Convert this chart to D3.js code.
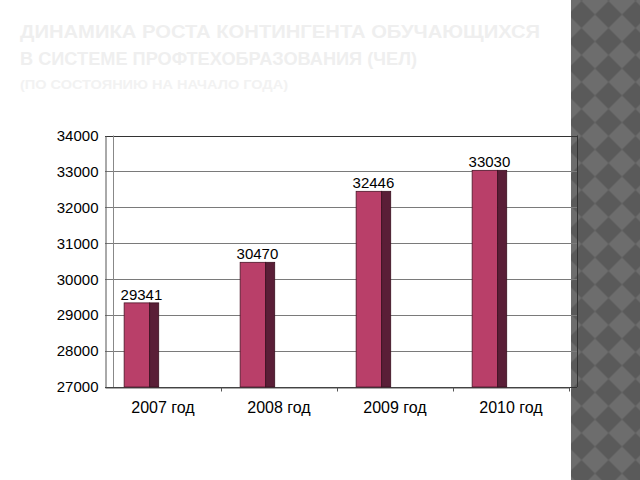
<!DOCTYPE html>
<html><head><meta charset="utf-8">
<script src="https://cdn.jsdelivr.net/npm/d3@7"></script>
<style>html,body{margin:0;padding:0;background:#fff;}svg{display:block;}</style>
</head><body>
<script>
const categories = ["2007 год", "2008 год", "2009 год", "2010 год"];
const values = [29341, 30470, 32446, 33030];
const yTicks = [27000, 28000, 29000, 30000, 31000, 32000, 33000, 34000];
const titleLines = ["ДИНАМИКА РОСТА КОНТИНГЕНТА ОБУЧАЮЩИХСЯ", "В СИСТЕМЕ ПРОФТЕХОБРАЗОВАНИЯ (ЧЕЛ)"];
const subtitle = "(ПО СОСТОЯНИЮ НА НАЧАЛО ГОДА)";

const W = 640, H = 480;
const svg = d3.select("body").append("svg").attr("width", W).attr("height", H);
const font = "'Liberation Sans', Arial, sans-serif";

// right decorative panel
const defs = svg.append("defs");
const P = 27;
const pat = defs.append("pattern").attr("id", "chk").attr("patternUnits", "userSpaceOnUse")
  .attr("width", P).attr("height", P).attr("x", 581.5).attr("y", 176.5);
pat.append("rect").attr("width", P).attr("height", P).attr("fill", "#5a5a5a");
pat.append("polygon").attr("points", `${P/2},0 ${P},${P/2} ${P/2},${P} 0,${P/2}`).attr("fill", "#6d6d6d");
svg.append("rect").attr("x", 571).attr("y", 0).attr("width", W - 571).attr("height", H).attr("fill", "url(#chk)");

// title (very light)
const tg = svg.append("g").attr("font-family", font).attr("font-weight", "bold");
tg.selectAll("text.t").data(titleLines).join("text").attr("class", "t")
  .attr("x", 20).attr("y", (d, i) => 38 + i * 27)
  .attr("font-size", 18).attr("fill", "#efefef")
  .attr("textLength", (d, i) => i === 0 ? 520 : 397).attr("lengthAdjust", "spacingAndGlyphs")
  .text(d => d);
tg.append("text").attr("x", 20).attr("y", 89).attr("font-size", 13).attr("fill", "#f2f2f2")
  .attr("textLength", 268).attr("lengthAdjust", "spacingAndGlyphs").text(subtitle);

// scales
const x = d3.scaleBand().domain(categories).range([105, 569]).padding(0);
const y = d3.scaleLinear().domain([27000, 34000]).range([387, 135.5]);
const depth = 8;
const left = x.range()[0], right = x.range()[1] + depth;

// grid / back wall
const grid = svg.append("g");
grid.selectAll("line.g").data(yTicks).join("line").attr("class", "g")
  .attr("x1", left).attr("x2", right)
  .attr("y1", d => Math.round(y(d)) + 0.5).attr("y2", d => Math.round(y(d)) + 0.5)
  .attr("stroke", d => d === 34000 || d === 27000 ? "#333" : "#7a7a7a").attr("stroke-width", 1);
[left + depth, right].forEach(xx => {
  grid.append("line").attr("x1", xx + 0.5).attr("x2", xx + 0.5)
    .attr("y1", y(34000)).attr("y2", y(27000)).attr("stroke", xx === right ? "#333" : "#888");
});

// y axis
const yAxis = d3.axisLeft(y).tickValues(yTicks).tickSize(0).tickPadding(7).tickFormat(d3.format("d"));
const ya = svg.append("g").attr("transform", `translate(${left + 0.5},0)`).call(yAxis);
ya.select(".domain").attr("stroke", "#555");
ya.selectAll("text").attr("font-family", font).attr("font-size", 15).attr("fill", "#000");

// x axis
const xa = svg.append("g").attr("transform", `translate(0,${Math.round(y(27000)) + 0.5})`)
  .call(d3.axisBottom(x).tickSize(0).tickPadding(14));
xa.select(".domain").attr("stroke", "#555");
xa.selectAll("text").attr("font-family", font).attr("font-size", 16).attr("fill", "#000");
// category boundary ticks
xa.selectAll("line.bt").data(categories).join("line").attr("class", "bt")
  .attr("x1", d => x(d) + x.bandwidth() + 0.5).attr("x2", d => x(d) + x.bandwidth() + 0.5)
  .attr("y1", 0).attr("y2", 4).attr("stroke", "#555");

// bars
const bw = x.bandwidth();
const frontOff = bw * 0.165, frontW = bw * 0.22, sideW = bw * 0.078;
const bars = svg.append("g").selectAll("g").data(categories).join("g");
bars.append("rect")
  .attr("x", d => x(d) + frontOff).attr("y", (d, i) => y(values[i]))
  .attr("width", frontW).attr("height", (d, i) => y(27000) - y(values[i]))
  .attr("fill", "#b93f69").attr("stroke", "#4a1528").attr("stroke-width", 0.8);
bars.append("rect")
  .attr("x", d => x(d) + frontOff + frontW).attr("y", (d, i) => y(values[i]))
  .attr("width", sideW).attr("height", (d, i) => y(27000) - y(values[i]))
  .attr("fill", "#5a1e37").attr("stroke", "#3a1020").attr("stroke-width", 0.8);
bars.append("text")
  .attr("x", d => x(d) + frontOff + (frontW + sideW) / 2)
  .attr("y", (d, i) => y(values[i]) - 3)
  .attr("text-anchor", "middle").attr("font-family", font).attr("font-size", 15).attr("fill", "#000")
  .text((d, i) => values[i]);
</script>
</body></html>
